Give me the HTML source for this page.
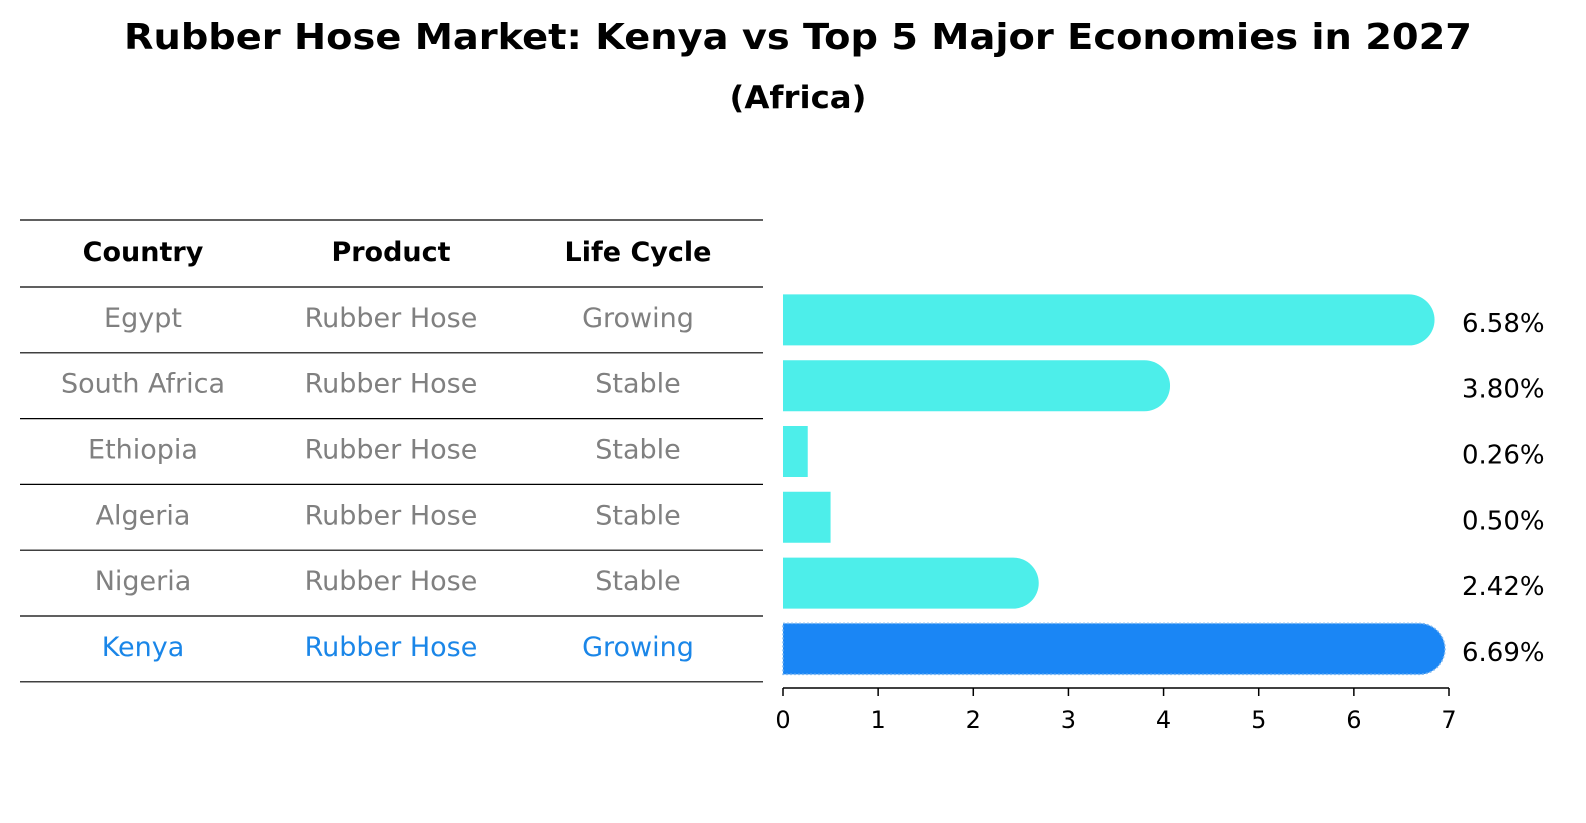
<!DOCTYPE html>
<html><head><meta charset="utf-8"><style>
body{margin:0;background:#fff;font-family:"DejaVu Sans","Liberation Sans",sans-serif;}
#wrap{position:relative;width:1586px;height:823px;overflow:hidden;}
text{font-family:"DejaVu Sans","Liberation Sans",sans-serif;}
</style></head><body>
<div id="wrap">
<svg id="svg" width="1586" height="823">
<text x="798" y="49" text-anchor="middle" font-size="36" font-weight="bold" textLength="1348" lengthAdjust="spacingAndGlyphs">Rubber Hose Market: Kenya vs Top 5 Major Economies in 2027</text>
<text x="798" y="108" text-anchor="middle" font-size="31" font-weight="bold" textLength="137" lengthAdjust="spacingAndGlyphs">(Africa)</text>
<g id="table"></g>
<g id="bars"></g>
<g id="axis"></g>
</svg>
</div>
<script>
const countries=["Egypt","South Africa","Ethiopia","Algeria","Nigeria","Kenya"];
const products=["Rubber Hose","Rubber Hose","Rubber Hose","Rubber Hose","Rubber Hose","Rubber Hose"];
const lifeCycles=["Growing","Stable","Stable","Stable","Stable","Growing"];
const values=[6.58,3.80,0.26,0.50,2.42,6.69];
const ticks=[0,1,2,3,4,5,6,7];
const NS="http://www.w3.org/2000/svg";
const x0=783,x1=1449,xmax=7;
const xs=v=>x0+(x1-x0)*v/xmax;
const rowTop=287,rowH=65.8;
const yc=i=>rowTop+rowH*(i+0.5);
function mk(t,a,p){const e=document.createElementNS(NS,t);for(const k in a)e.setAttribute(k,a[k]);p.appendChild(e);return e;}
const tb=document.getElementById('table');
const colX=[143,391,638];
const hl=mk('line',{x1:20,x2:763,y1:220,y2:220,stroke:'#000','stroke-width':1.2},tb);


["Country","Product","Life Cycle"].forEach((h,j)=>{
 const t=mk('text',{x:colX[j],y:261,'text-anchor':'middle','font-size':27,'font-weight':'bold'},tb);t.textContent=h;
 
 
});
for(let i=0;i<countries.length;i++){
 const ln=mk('line',{x1:20,x2:763,y1:rowTop+rowH*i,y2:rowTop+rowH*i,stroke:'#000','stroke-width':1.2},tb);
 
 
 const col=i===countries.length-1?'#1a86e8':'#808080';
 [countries[i],products[i],lifeCycles[i]].forEach((s,j)=>{
  const t=mk('text',{x:colX[j],y:yc(i)+7,'text-anchor':'middle','font-size':27,fill:col},tb);t.textContent=s;
  
  
 });
}
const bl=mk('line',{x1:20,x2:763,y1:rowTop+rowH*countries.length,y2:rowTop+rowH*countries.length,stroke:'#000','stroke-width':1.2},tb);


const bg=document.getElementById('bars');
const bh=51,r=25.5;
values.forEach((v,i)=>{
 const kenya=i===values.length-1;
 const col=kenya?'#1a86f5':'#4deeea';
 const y=yc(i)-bh/2,xe=xs(v);
 let d;
 if(v>=1){d=`M${x0},${y}H${xe}A${r},${r} 0 0 1 ${xe},${y+bh}H${x0}Z`;}
 else{d=`M${x0},${y}H${xe}V${y+bh}H${x0}Z`;}
 const p=mk('path',{d:d,fill:col},bg);
 if(kenya){p.setAttribute('stroke','#7fb8f0');p.setAttribute('stroke-dasharray','2,2');p.setAttribute('stroke-width','1.5');}
 
 
 const t=mk('text',{x:1462,y:yc(i)+12,'font-size':26},bg);t.textContent=v.toFixed(2)+'%';
 
 
});
const ax=document.getElementById('axis');
const al=mk('line',{x1:x0,x2:x1,y1:688,y2:688,stroke:'#000','stroke-width':1.5},ax);


ticks.forEach(v=>{
 const tk=mk('line',{x1:xs(v),x2:xs(v),y1:688,y2:696,stroke:'#000','stroke-width':1.5},ax);
 
 
 const t=mk('text',{x:xs(v),y:728,'text-anchor':'middle','font-size':24},ax);t.textContent=v;
 
 
});
</script>
</body></html>
